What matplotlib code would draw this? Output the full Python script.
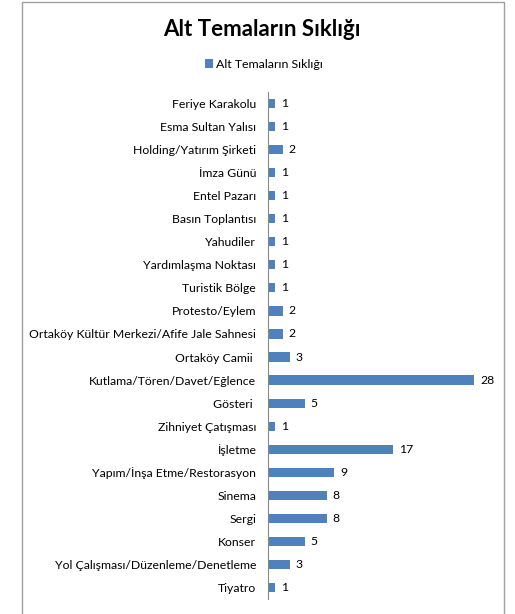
import matplotlib.pyplot as plt
from matplotlib.patches import Rectangle

# Data (top to bottom as shown in the chart)
categories = [
    "Feriye Karakolu", "Esma Sultan Yalısı", "Holding/Yatırım Şirketi",
    "İmza Günü", "Entel Pazarı", "Basın Toplantısı", "Yahudiler",
    "Yardımlaşma Noktası", "Turistik Bölge", "Protesto/Eylem",
    "Ortaköy Kültür Merkezi/Afife Jale Sahnesi", "Ortaköy Camii ",
    "Kutlama/Tören/Davet/Eğlence", "Gösteri ", "Zihniyet Çatışması",
    "İşletme", "Yapım/İnşa Etme/Restorasyon", "Sinema", "Sergi",
    "Konser", "Yol Çalışması/Düzenleme/Denetleme", "Tiyatro",
]
counts = [1, 1, 2, 1, 1, 1, 1, 1, 1, 2, 2, 3, 28, 5, 1, 17, 9, 8, 8, 5, 3, 1]
series_name = "Alt Temaların Sıklığı"
chart_title = "Alt Temaların Sıklığı"

plt.rcParams['font.family'] = ['Lato', 'DejaVu Sans']
bar_color = '#4F81BD'

fig = plt.figure(figsize=(5.15, 6.14), dpi=100)

# chart border (runs off the bottom of the image)
fig.patches.append(Rectangle((22 / 515, -0.05), (504 - 22) / 515, 1.05 - 2 / 614,
                             transform=fig.transFigure, fill=False,
                             edgecolor='#A0A0A0', linewidth=1.0))

ax = fig.add_axes([268 / 515, 1 - 599 / 614, (489 - 268) / 515, (599 - 92) / 614])

y_pos = list(range(len(categories)))
bars = ax.barh(y_pos, counts, height=0.4, color=bar_color, label=series_name)
ax.set_ylim(len(categories) - 0.5, -0.5)
ax.set_xlim(0, 30)

ax.set_yticks(y_pos)
ax.set_yticklabels(categories, fontsize=8.8)
ax.tick_params(axis='y', length=0, pad=8.5)
ax.set_xticks([])

for s in ['top', 'right', 'bottom']:
    ax.spines[s].set_visible(False)
ax.spines['left'].set_color('#888888')

for b, v in zip(bars, counts):
    ax.text(b.get_width() + 0.8, b.get_y() + b.get_height() / 2, str(v),
            va='center', ha='left', fontsize=8.8)

fig.text(0.508, 1 - 30 / 614, chart_title, ha='center', va='center',
         fontsize=16, fontweight='bold')
fig.legend(handles=[bars], labels=[series_name], loc='center',
           bbox_to_anchor=(0.512, 1 - 64 / 614), frameon=False, fontsize=8.9,
           handlelength=0.7, handleheight=0.7, handletextpad=0.2)

plt.savefig('out.png', dpi=100)
